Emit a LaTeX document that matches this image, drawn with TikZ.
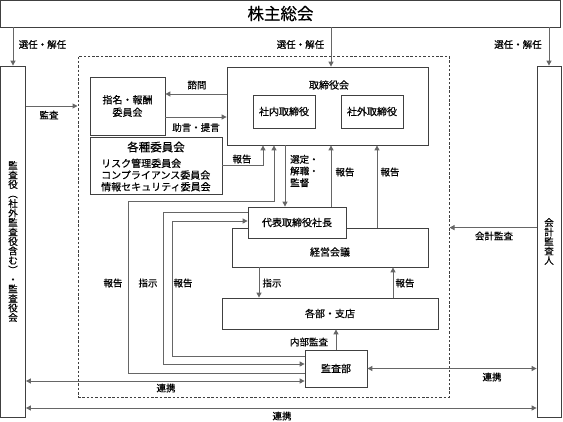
\documentclass[tikz,border=0pt]{standalone}
\usepackage{fontspec}
\setmainfont{Noto Sans CJK JP}[FakeBold=0.5]
\usetikzlibrary{calc}
\usetikzlibrary{arrows.meta}
\definecolor{edgegray}{gray}{0.25}
\definecolor{linegray}{gray}{0.4}
\newcommand\lblfont{\fontsize{9.5}{11.7}\selectfont}
\newcommand\boxfont{\fontsize{10}{12.5}\selectfont}
\newcommand\vertfont{\fontsize{9.5}{9.5}\selectfont\lineskiplimit=-5pt}
\tikzset{
    border/.style = {
        draw=edgegray, fill=white, rectangle, line width=0.8pt, inner sep=0pt, font=\boxfont, align=center
    },
    frameborder/.style = {
        draw=edgegray, rectangle, line width=1pt, dash pattern=on 2.5pt off 1.8pt, inner sep=0pt
    },
    lbl/.style = {
        inner sep=0pt, font=\lblfont, align=left
    },
}

\begin{document}
\begin{tikzpicture}[x=1pt, y=-1pt]
        \useasboundingbox (0,0) rectangle (563,421);

        % Place the blocks
        \node[frameborder, minimum width=371pt, minimum height=341pt] (frame) at (263.5,226.5) {};
        \node[border, minimum width=560pt, minimum height=27pt, font=\fontsize{16.5}{18}\selectfont] (soukai) at (280.5,13.5) {株主総会};
        \node[border, minimum width=25pt, minimum height=351pt, font=\vertfont] (kansayaku) at (13,241.5)
            {監\\査\\役\\︵\\社\\外\\監\\査\\役\\含\\む\\︶\\・\\監\\査\\役\\会};
        \node[border, minimum width=24pt, minimum height=351pt, font=\vertfont] (kaikei) at (549,241.5)
            {会\\計\\監\\査\\人};

        \node[border, minimum width=201pt, minimum height=78pt] (tori) at (327.5,106) {};
        \node[lbl, font=\boxfont] (tori-title) at (329,85) {取締役会};
        \node[border, minimum width=62pt, minimum height=33pt] (shanai) at (284,111.5) {社内取締役};
        \node[border, minimum width=62pt, minimum height=33pt] (shagai) at (372,111.5) {社外取締役};

        \node[border, minimum width=75pt, minimum height=58pt] (shimei) at (127.5,106) {指名・報酬\\委員会};
        \node[border, minimum width=132pt, minimum height=57pt] (kakushu) at (156,165.5) {};
        \node[lbl, font=\fontsize{11.5}{13}\selectfont] (kakushu-title) at (156,147) {各種委員会};
        \node[lbl, font=\fontsize{10}{11.7}\selectfont, anchor=west] (kakushu-list) at (101,175)
            {リスク管理委員会\\コンプライアンス委員会\\情報セキュリティ委員会};

        \node[border, minimum width=196pt, minimum height=39pt] (keiei) at (330,247.5) {};
        \node[lbl, font=\boxfont] (keiei-title) at (330,252) {経営会議};
        \node[border, minimum width=98pt, minimum height=31pt] (daihyo) at (297,222.5) {代表取締役社長};
        \node[border, minimum width=216pt, minimum height=31pt] (kakubu) at (330,313.5) {各部・支店};
        \node[border, minimum width=62pt, minimum height=37pt] (kansabu) at (336,368.5) {監査部};

        % Bends of the long lines
        \coordinate (railK) at (263,0);
        \coordinate (railR) at (128,201);
        \coordinate (railR2) at (274,201);
        \coordinate (railI) at (163,212);
        \coordinate (railH) at (172,221);
        \coordinate (renkei) at (0,408);

        % Draw connections
        \begin{scope}[draw=linegray, line width=1pt, >={Triangle[width=5pt,length=5pt]}]
            \draw[->] (soukai.south -| kansayaku.north) -- (kansayaku.north);
            \draw[->] ([xshift=3.5pt]soukai.south -| tori.north) -- ([xshift=3.5pt]tori.north);
            \draw[->] (soukai.south -| kaikei.north) -- (kaikei.north);
            \draw[->] (kansayaku.east |- shimei.west) -- (frame.west |- shimei.west);
            \draw[->] ([yshift=12pt]tori.west |- shimei.east) -- ([yshift=12pt]shimei.east);
            \draw[->] ([yshift=-11pt]shimei.east) -- ([yshift=-11pt]tori.west |- shimei.east);
            \draw[->] (kakushu.east) -| (tori.south -| railK);
            \draw[->] ([yshift=-4.5pt]kansabu.west) -| (railR) -- (railR2) -- (tori.south -| railR2);
            \draw[->] ([xshift=-12pt]daihyo.north |- tori.south) -- ([xshift=-12pt]daihyo.north);
            \draw[->] ([xshift=34pt]daihyo.north) -- ([xshift=34pt]daihyo.north |- tori.south);
            \draw[->] ([xshift=47pt]keiei.north) -- ([xshift=47pt]keiei.north |- tori.south);
            \draw[->] ([xshift=-71pt]keiei.south) -- ([xshift=-71pt]keiei.south |- kakubu.north);
            \draw[->] ([xshift=63pt]kakubu.north) -- ([xshift=63pt]kakubu.north |- keiei.south);
            \draw[->] (kansabu.north) -- (kansabu.north |- kakubu.south);
            \draw[->] (daihyo.west |- railI) -- (railI) |- ([yshift=4.5pt]kansabu.west);
            \draw[->] ([yshift=12.5pt]kansabu.west) -| (railH) -- (daihyo.west |- railH);
            \draw[<->] ([yshift=-12.5pt]kansabu.west -| kansayaku.east) -- ([yshift=-12.5pt]kansabu.west);
            \draw[<->] (kansabu.east) -- (kansabu.east -| kaikei.west);
            \draw[<->] (kansayaku.east |- renkei) -- (kaikei.west |- renkei);
            \draw[->] (kaikei.west |- keiei.north) -- (frame.east |- keiei.north);
        \end{scope}

        % Labels
        \node[lbl] (l-sennin1) at (42.5,44.5) {選任・解任};
        \node[lbl] (l-sennin2) at (300.5,44.5) {選任・解任};
        \node[lbl] (l-sennin3) at (518,44.5) {選任・解任};
        \node[lbl] (l-kansa) at (49,115) {監査};
        \node[lbl] (l-shimon) at (197,85) {諮問};
        \node[lbl] (l-jogen) at (196,127.5) {助言・提言};
        \node[lbl] (l-hokoku1) at (242,159) {報告};
        \node[lbl, anchor=west] (l-sentei) at (290,171) {選定・\\解職・\\監督};
        \node[lbl] (l-hokoku2) at (345,172) {報告};
        \node[lbl] (l-hokoku3) at (390,172) {報告};
        \node[lbl] (l-hokoku4) at (113,283) {報告};
        \node[lbl] (l-shiji1) at (148,283) {指示};
        \node[lbl] (l-hokoku5) at (183,283) {報告};
        \node[lbl] (l-shiji2) at (272,283) {指示};
        \node[lbl] (l-hokoku6) at (405,283) {報告};
        \node[lbl] (l-naibu) at (309,342) {内部監査};
        \node[lbl] (l-kaikei) at (494,236) {会計監査};
        \node[lbl] (l-renkei1) at (166,388) {連携};
        \node[lbl] (l-renkei2) at (492,377) {連携};
        \node[lbl] (l-renkei3) at (282,416) {連携};
    \end{tikzpicture}
\end{document}
